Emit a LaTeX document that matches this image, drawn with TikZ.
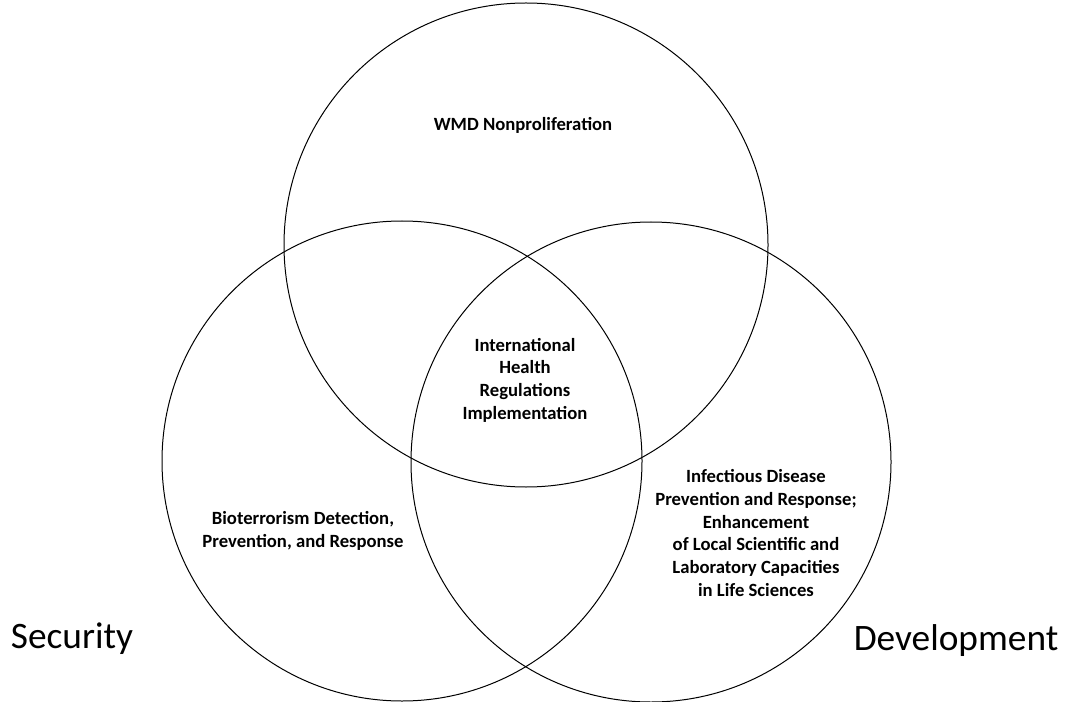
\documentclass[tikz,border=0pt]{standalone}
\usepackage{fontspec}
\setmainfont{Carlito}

\begin{document}
\begin{tikzpicture}
    [x=0.75pt, y=-0.75pt,
    cerchio/.style={circle ,draw ,line width=0.75pt ,inner sep=0pt ,minimum size=360pt },
    testo/.style={align=center ,font=\fontsize{14}{17}\selectfont\bfseries },
    titolo/.style={anchor=base ,font=\fontsize{28}{34}\selectfont }]
    \useasboundingbox (0,0) rectangle (1067,702);

    \node[cerchio, minimum size=363pt] (wmd) at (526,245) {};
    \node[cerchio] (sec) at (402,461) {};
    \node[cerchio] (dev) at (651,462) {};

    \node[testo] (nonprol) at (523,125) {WMD Nonproliferation};
    \node[testo] (ihr) at (525,380) {International\\Health\\Regulations\\Implementation};
    \node[testo] (bio) at (303,531) {Bioterrorism Detection,\\Prevention, and Response};
    \node[testo] (inf) at (756,533) {Infectious Disease\\Prevention and Response;\\Enhancement\\of Local Scientific and\\Laboratory Capacities\\in Life Sciences};

    \node[titolo] (security) at (72,648) {Security};
    \node[titolo] (development) at (956,650) {Development};

\end{tikzpicture}
\end{document}
